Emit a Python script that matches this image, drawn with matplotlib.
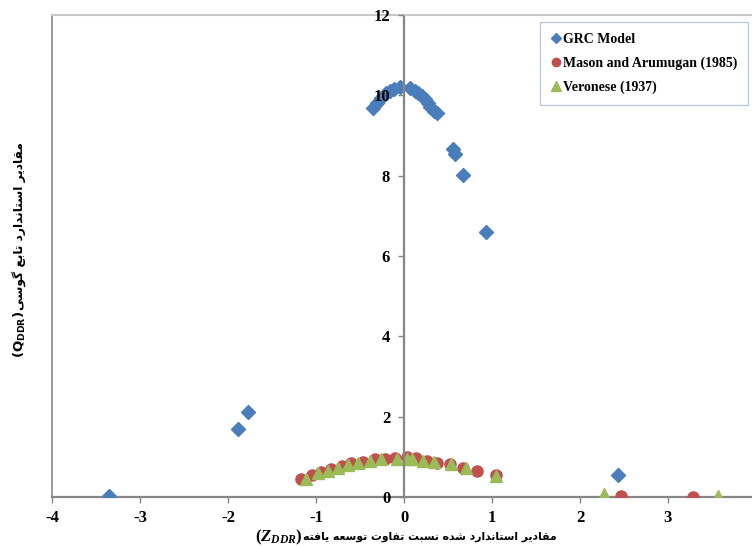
import matplotlib
matplotlib.use("Agg")
import matplotlib.pyplot as plt

# GRC model (blue diamonds)
grc_x = [-3.36, -1.89, -1.77, -0.35, -0.31, -0.26, -0.21, -0.16, -0.11, -0.05,
         0.07, 0.12, 0.16, 0.20, 0.24, 0.27, 0.30, 0.34, 0.37,
         0.56, 0.58, 0.67, 0.93, 2.43]
grc_y = [0.03, 1.69, 2.11, 9.68, 9.80, 9.94, 10.05, 10.12, 10.17, 10.20,
         10.18, 10.12, 10.06, 9.99, 9.90, 9.82, 9.72, 9.62, 9.55,
         8.66, 8.54, 8.01, 6.60, 0.55]

# Mason and Arumugan (1985)
mason_x = [-1.17, -1.05, -0.94, -0.83, -0.71, -0.60, -0.47, -0.33, -0.22, -0.10,
           0.03, 0.13, 0.26, 0.37, 0.52, 0.67, 0.83, 1.04, 2.47, 3.28]
mason_y = [0.46, 0.56, 0.63, 0.69, 0.77, 0.84, 0.88, 0.94, 0.94, 0.96,
           0.99, 0.96, 0.90, 0.85, 0.81, 0.73, 0.65, 0.55, 0.03, 0.01]

# Veronese (1937)
ver_x = [-1.12, -0.98, -0.87, -0.75, -0.64, -0.52, -0.39, -0.26, -0.08, 0.03,
         0.09, 0.22, 0.34, 0.53, 0.70, 1.05, 2.27, 3.57]
ver_y = [0.46, 0.59, 0.65, 0.71, 0.80, 0.84, 0.90, 0.94, 0.94, 0.94,
         0.94, 0.90, 0.87, 0.81, 0.71, 0.52, 0.08, 0.02]

x_ticks = [-4, -3, -2, -1, 0, 1, 2, 3, 4]
y_ticks = [0, 2, 4, 6, 8, 10, 12]

x_title = "مقادیر استاندارد شده نسبت تفاوت توسعه یافته"
y_title = "مقادیر استاندارد تابع گوسی"

# presentation forms: isolated, final, initial, medial
FORMS = {
    "ا": "\ufe8d\ufe8e", "د": "\ufea9\ufeaa", "ر": "\ufead\ufeae", "و": "\ufeed\ufeee",
    "ب": "\ufe8f\ufe90\ufe91\ufe92", "ت": "\ufe95\ufe96\ufe97\ufe98",
    "ج": "\ufe9d\ufe9e\ufe9f\ufea0", "س": "\ufeb1\ufeb2\ufeb3\ufeb4",
    "ش": "\ufeb5\ufeb6\ufeb7\ufeb8", "ع": "\ufec9\ufeca\ufecb\ufecc",
    "ف": "\ufed1\ufed2\ufed3\ufed4", "ق": "\ufed5\ufed6\ufed7\ufed8",
    "م": "\ufee1\ufee2\ufee3\ufee4", "ن": "\ufee5\ufee6\ufee7\ufee8",
    "ه": "\ufee9\ufeea\ufeeb\ufeec", "ی": "\ufbfc\ufbfd\ufbfe\ufbff",
    "گ": "\ufb92\ufb93\ufb94\ufb95",
}


def shape(txt):
    out = []
    for i, ch in enumerate(txt):
        if ch not in FORMS:
            out.append(ch)
            continue
        prev = txt[i - 1] if i > 0 else ""
        nxt = txt[i + 1] if i + 1 < len(txt) else ""
        jp = prev in FORMS and len(FORMS[prev]) == 4
        jn = len(FORMS[ch]) == 4 and nxt in FORMS
        f = FORMS[ch]
        if jp and jn:
            out.append(f[3])
        elif jp:
            out.append(f[1])
        elif jn:
            out.append(f[2])
        else:
            out.append(f[0])
    return "".join(reversed(out))


plt.rcParams["axes.unicode_minus"] = False
plt.rcParams["mathtext.fontset"] = "custom"
plt.rcParams["mathtext.rm"] = "Liberation Serif:bold"
plt.rcParams["mathtext.it"] = "Liberation Serif:italic:bold"
plt.rcParams["mathtext.sf"] = "DejaVu Sans:bold"

gray = "#868686"
light = "#c8c8c8"

fig = plt.figure(figsize=(7.52, 5.46), dpi=100)
ax = fig.add_axes([52.3 / 752, 49 / 546, 703.6 / 752, 482 / 546])
ax.set_axisbelow(False)

ax.plot(grc_x, grc_y, "D", color="#4a7ebb", ms=7, mec="#4a7ebb", label="GRC Model", zorder=2)
ax.plot(mason_x, mason_y, "o", color="#c0504d", ms=8, label="Mason and Arumugan (1985)", zorder=2)
ax.plot(ver_x, ver_y, "^", color="#9bbb59", ms=9, label="Veronese (1937)", zorder=2)

ax.set_xlim(-4, 4)
ax.set_ylim(0, 12)
ax.set_xticks(x_ticks)
ax.set_yticks(y_ticks)

ax.spines["left"].set_position(("data", 0))
ax.spines["left"].set_color(gray)
ax.spines["left"].set_linewidth(1.6)
ax.spines["bottom"].set_color(gray)
ax.spines["bottom"].set_linewidth(1.6)
ax.spines["bottom"].set_zorder(1.5)
ax.spines["top"].set_color(light)
ax.spines["top"].set_linewidth(1.5)
ax.spines["right"].set_visible(False)
ax.axvline(-4, color=gray, lw=1.2, clip_on=False, zorder=0)

ax.tick_params(axis="both", colors=gray, length=4, width=1, direction="out")
ax.tick_params(axis="y", pad=6)
ax.tick_params(axis="x", pad=5)
for lab in ax.get_xticklabels() + ax.get_yticklabels():
    lab.set_fontfamily("Liberation Serif")
    lab.set_fontweight("bold")
    lab.set_fontsize(12)
    lab.set_color("black")

leg = ax.legend(loc="upper right", bbox_to_anchor=(748 / 752, 1 - 22 / 546),
                bbox_transform=fig.transFigure, fancybox=False, frameon=True,
                prop={"family": "Liberation Serif", "weight": "bold", "size": 10},
                markerscale=0.75, handlelength=0.6, handletextpad=0.2,
                borderpad=0.8, labelspacing=0.75, borderaxespad=0)
leg.get_frame().set_edgecolor("#a6bcd6")
leg.get_frame().set_linewidth(1)

# axis titles: math part + Persian part packed next to each other
renderer = fig.canvas.get_renderer()
W, H = 752, 546

zt = fig.text(0, 1 - 537 / H, r"$(Z_{DDR})$", fontsize=12, ha="left", va="center")
xt = fig.text(0, 1 - 537 / H, shape(x_title), fontsize=7.8,
              family="DejaVu Sans", weight="bold", ha="left", va="center")
wz = zt.get_window_extent(renderer).width
wx = xt.get_window_extent(renderer).width
x0 = 406 - (wz + wx) / 2
zt.set_x(x0 / W)
xt.set_x((x0 + wz) / W)

qt = fig.text(20 / W, 0, r"$\mathsf{(Q_{DDR})}$", fontsize=9.5,
              rotation=90, ha="center", va="bottom")
yt = fig.text(20 / W, 0, shape(y_title), fontsize=8.8, rotation=90,
              family="DejaVu Sans", weight="bold", ha="center", va="bottom")
hq = qt.get_window_extent(renderer).height
hy = yt.get_window_extent(renderer).height
y0 = (H - 250) - (hq + hy) / 2
qt.set_y(y0 / H)
yt.set_y((y0 + hq) / H)

fig.savefig("out.png", dpi=100)
